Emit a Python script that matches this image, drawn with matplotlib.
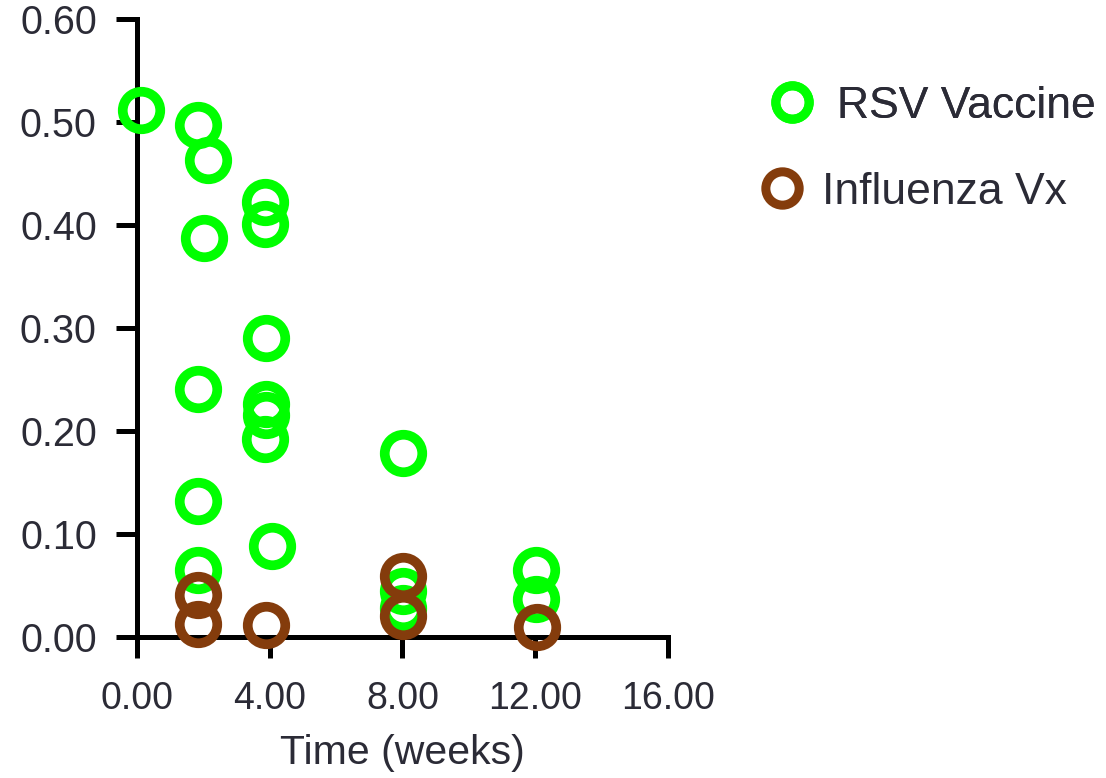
import matplotlib
matplotlib.use("Agg")
import matplotlib.pyplot as plt
from matplotlib.lines import Line2D

plt.rcParams['font.family'] = ['Liberation Sans', 'DejaVu Sans']

# RSV vaccine group
rsv_weeks = [0.12, 1.83, 2.15, 2.02, 3.87, 3.87, 3.9, 1.83, 3.9, 3.9, 3.87,
             1.83, 4.07, 1.83, 8.02, 8.02, 8.02, 12.02, 12.02]
rsv_vals = [0.512, 0.497, 0.463, 0.388, 0.423, 0.401, 0.290, 0.241, 0.226,
            0.216, 0.192, 0.132, 0.088, 0.065, 0.179, 0.045, 0.028, 0.065, 0.037]

# Influenza vaccine group
flu_weeks = [1.83, 1.83, 3.9, 8.02, 8.02, 12.05]
flu_vals = [0.041, 0.0125, 0.012, 0.059, 0.020, 0.010]

x_ticks = [0, 4, 8, 12, 16]
y_ticks = [0.0, 0.1, 0.2, 0.3, 0.4, 0.5, 0.6]

green = '#00ff00'
brown = '#843c0c'
txt = '#2b2b36'

fig = plt.figure(figsize=(11.06, 7.78), dpi=100)
ax = fig.add_axes([0.1239, 0.1812, 0.480, 0.794])

mk = dict(ls='none', marker='o', ms=27, mew=7, mfc='none', clip_on=False, zorder=5)
ax.plot(rsv_weeks, rsv_vals, mec=green, **mk)
ax.plot(flu_weeks, flu_vals, mec=brown, **mk)

ax.set_xlim(0, 16)
ax.set_ylim(0, 0.6)
ax.set_xticks(x_ticks)
ax.set_xticklabels([f'{v:.2f}' for v in x_ticks])
ax.set_yticks(y_ticks)
ax.set_yticklabels([f'{v:.2f}' for v in y_ticks])

for s in ['top', 'right']:
    ax.spines[s].set_visible(False)
for s in ['left', 'bottom']:
    ax.spines[s].set_linewidth(3.6)

ax.tick_params(axis='both', length=15, width=3.6, labelcolor=txt)
ax.tick_params(axis='y', pad=14, labelsize=28.5)
ax.tick_params(axis='x', pad=17, labelsize=27)
ax.set_xlabel('Time (weeks)', fontsize=29.5, color=txt, labelpad=12)

# legend entries, one per box so each sits where the original has it
h_rsv = Line2D([], [], ls='none', marker='o', ms=24, mew=6.5, mfc='none', mec=green)
h_flu = Line2D([], [], ls='none', marker='o', ms=24, mew=6.5, mfc='none', mec=brown)
leg1 = fig.legend([h_rsv], ['RSV Vaccine'], loc='center left',
                  bbox_to_anchor=(769.5 / 1106, 1 - 106 / 778), frameon=False,
                  fontsize=32, handlelength=1.0, handletextpad=0.51,
                  borderpad=0, borderaxespad=0, labelcolor=txt)
leg2 = fig.legend([h_flu], ['Influenza Vx'], loc='center left',
                  bbox_to_anchor=(759.5 / 1106, 1 - 192 / 778), frameon=False,
                  fontsize=32, handlelength=1.0, handletextpad=0.4,
                  borderpad=0, borderaxespad=0, labelcolor=txt)
fig.add_artist(leg1)

fig.savefig('out.png', dpi=100)
